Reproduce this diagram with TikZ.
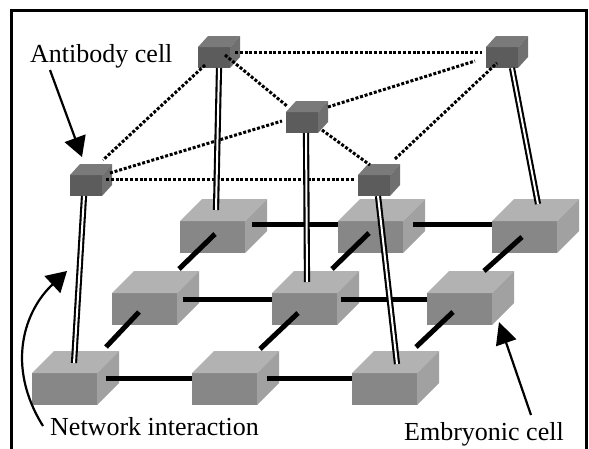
\documentclass[tikz,border=0pt]{standalone}
\usepackage{fontspec}
\setmainfont{Liberation Serif}
\usetikzlibrary{calc,arrows.meta}

\definecolor{efront}{gray}{0.53}
\definecolor{etop}{gray}{0.70}
\definecolor{eside}{gray}{0.63}
\definecolor{afront}{gray}{0.36}
\definecolor{atop}{gray}{0.48}
\definecolor{aside}{gray}{0.44}

\tikzset{
  embfront/.style={rectangle, anchor=north west, inner sep=0pt, outer sep=0pt,
    minimum width=65pt, minimum height=32pt, fill=efront},
  abfront/.style={rectangle, anchor=north west, inner sep=0pt, outer sep=0pt,
    minimum width=32pt, minimum height=21pt, fill=afront},
  link/.style={line width=5pt, black},
  netlink/.style={line width=3pt, black, dash pattern=on 3pt off 1.8pt},
  bond/.style={double=white, double distance=2pt, line width=2.1pt, black},
  pointer/.style={line width=2.2pt, black},
  label/.style={font=\fontsize{26}{30}\selectfont, inner sep=0pt, anchor=base west},
  frame/.style={line width=3pt, black}
}

% embryonic cell: front face node plus top and side faces
\newcommand\embcell[3]{%
  \node[embfront] (#1) at (#2,#3) {};
  \fill[etop] (#1.north west) -- ++(22,-22) -- ++(65,0) -- (#1.north east) -- cycle;
  \fill[eside] (#1.north east) -- ++(22,-22) -- ++(0,32) -- (#1.south east) -- cycle;
}
% antibody cell: smaller, darker block
\newcommand\abcell[3]{%
  \node[abfront] (#1) at (#2,#3) {};
  \fill[atop] (#1.north west) -- ++(10,-11) -- ++(32,0) -- (#1.north east) -- cycle;
  \fill[aside] (#1.north east) -- ++(10,-11) -- ++(0,21) -- (#1.south east) -- cycle;
}

\begin{document}
\begin{tikzpicture}[x=1pt,y=-1pt]
\useasboundingbox (0,0) rectangle (589,448);

% outer frame (open at the bottom edge of the page)
\draw[frame] (11.5,460) -- (11.5,10.5) -- (586.5,10.5) -- (586.5,460);

% embryonic cells, back row first
\embcell{t1}{180}{221}
\embcell{t2}{338}{221}
\embcell{t3}{492}{221}
\embcell{m1}{112}{293}
\embcell{m2}{272}{293}
\embcell{m3}{427}{293}
\embcell{b1}{32}{373}
\embcell{b2}{192}{373}
\embcell{b3}{352}{373}

% antibody cells
\abcell{a1}{70}{175}
\abcell{a2}{198}{47}
\abcell{a3}{286}{112}
\abcell{a4}{358}{175}
\abcell{a5}{486}{47}

% links between embryonic cells, along the rows
\draw[link] ($(b1.north east)+(9,5)$) -- ($(b2.north west)+(0,5)$);
\draw[link] ($(b2.north east)+(10,5)$) -- ($(b3.north west)+(0,5)$);
\draw[link] ($(m1.north east)+(6,6)$) -- ($(m2.north west)+(0,6)$);
\draw[link] ($(m2.north east)+(4,6)$) -- ($(m3.north west)+(0,6)$);
\draw[link] ($(t1.north east)+(7,3)$) -- ($(t2.north west)+(0,3)$);
\draw[link] ($(t2.north east)+(10,3)$) -- ($(t3.north west)+(0,3)$);
% links between rows
\draw[link] ($(b1.north west)+(74,-26)$) -- ($(m1.north west)+(27,19)$);
\draw[link] ($(b2.north west)+(68,-24)$) -- ($(m2.north west)+(26,20)$);
\draw[link] ($(b3.north west)+(64,-26)$) -- ($(m3.north west)+(26,19)$);
\draw[link] ($(m1.north west)+(67,-24)$) -- ($(t1.north west)+(35,13)$);
\draw[link] ($(m2.north west)+(60,-24)$) -- ($(t2.north west)+(31,12)$);
\draw[link] ($(m3.north west)+(57,-22)$) -- ($(t3.north west)+(30,16)$);

% network among antibody cells
\draw[netlink] ($(a2.north west)+(37,5)$) -- ($(a5.north west)+(-4,5)$);
\draw[netlink] ($(a1.north west)+(36,4)$) -- ($(a4.north west)+(-3,4)$);
\draw[netlink] ($(a2.north west)+(7,18)$) -- ($(a1.north west)+(33,-15)$);
\draw[netlink] ($(a2.north west)+(27,8)$) -- ($(a3.north west)+(1,-6)$);
\draw[netlink] ($(a1.north west)+(40,-2)$) -- ($(a3.north west)+(-4,9)$);
\draw[netlink] ($(a3.north west)+(36,18)$) -- ($(a4.north west)+(12,-10)$);
\draw[netlink] ($(a3.north west)+(42,-5)$) -- ($(a5.north west)+(-11,14)$);
\draw[netlink] ($(a4.north west)+(37,-16)$) -- ($(a5.north west)+(11,16)$);

% bonds from antibody cells down to embryonic cells
\draw[bond] ($(a1.south west)+(14,0)$) -- ($(b1.north west)+(42,-10)$);
\draw[bond] ($(a2.south west)+(21,0)$) -- ($(t1.north west)+(36,-11)$);
\draw[bond] ($(a3.south west)+(20,0)$) -- ($(m2.north west)+(35,-11)$);
\draw[bond] ($(a4.south west)+(20,0)$) -- ($(b3.north west)+(45,-9)$);
\draw[bond] ($(a5.south west)+(26,0)$) -- ($(t3.north west)+(46,-17)$);

% labels
\node[label] (abl) at (30,62) {Antibody cell};
\node[label] (nwl) at (50,435) {Network interaction};
\node[label] (eml) at (404,440) {Embryonic cell};

% pointers
\coordinate (abs) at (50,70);
\coordinate (abt) at (82,157);
\coordinate (nws) at (43,426);
\coordinate (nwt) at (67,271);
\coordinate (ems) at (531,415);
\coordinate (emt) at (499,322);
\draw[pointer, -{Triangle[length=20pt,width=22pt]}] (abs) -- (abt);
\draw[pointer, -{Triangle[length=20pt,width=23pt]}] (nws) .. controls (5,365) and (25,310) .. (nwt);
\draw[pointer, -{Triangle[length=22pt,width=21pt]}] (ems) -- (emt);
\end{tikzpicture}
\end{document}
